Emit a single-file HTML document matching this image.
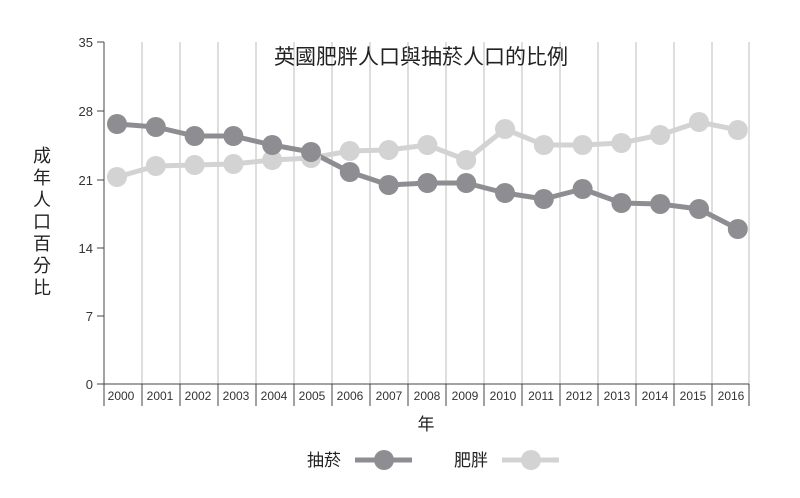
<!DOCTYPE html>
<html><head><meta charset="utf-8"><style>
body{margin:0;background:#fff;}
svg text{font-family:"Liberation Sans","Noto Sans CJK TC",sans-serif;}
</style></head><body>
<svg width="800" height="493" viewBox="0 0 800 493" xmlns="http://www.w3.org/2000/svg">
<g stroke="#bdbdbd" stroke-width="1">
<line x1="142" y1="42" x2="142" y2="384"/><line x1="180" y1="42" x2="180" y2="384"/><line x1="218" y1="42" x2="218" y2="384"/><line x1="256" y1="42" x2="256" y2="384"/><line x1="294" y1="42" x2="294" y2="384"/><line x1="332" y1="42" x2="332" y2="384"/><line x1="370" y1="42" x2="370" y2="384"/><line x1="408" y1="42" x2="408" y2="384"/><line x1="446" y1="42" x2="446" y2="384"/><line x1="484" y1="42" x2="484" y2="384"/><line x1="522" y1="42" x2="522" y2="384"/><line x1="560" y1="42" x2="560" y2="384"/><line x1="598" y1="42" x2="598" y2="384"/><line x1="636" y1="42" x2="636" y2="384"/><line x1="674" y1="42" x2="674" y2="384"/><line x1="712" y1="42" x2="712" y2="384"/><line x1="749" y1="42" x2="749" y2="384"/>
</g>
<g stroke="#444" stroke-width="1">
<line x1="104" y1="42" x2="104" y2="406"/><line x1="104" y1="384" x2="749" y2="384"/>
<line x1="97" y1="42" x2="104" y2="42"/><line x1="97" y1="111" x2="104" y2="111"/><line x1="97" y1="180" x2="104" y2="180"/><line x1="97" y1="248" x2="104" y2="248"/><line x1="97" y1="316" x2="104" y2="316"/><line x1="97" y1="384" x2="104" y2="384"/>
<line x1="142" y1="384" x2="142" y2="406"/><line x1="180" y1="384" x2="180" y2="406"/><line x1="218" y1="384" x2="218" y2="406"/><line x1="256" y1="384" x2="256" y2="406"/><line x1="294" y1="384" x2="294" y2="406"/><line x1="332" y1="384" x2="332" y2="406"/><line x1="370" y1="384" x2="370" y2="406"/><line x1="408" y1="384" x2="408" y2="406"/><line x1="446" y1="384" x2="446" y2="406"/><line x1="484" y1="384" x2="484" y2="406"/><line x1="522" y1="384" x2="522" y2="406"/><line x1="560" y1="384" x2="560" y2="406"/><line x1="598" y1="384" x2="598" y2="406"/><line x1="636" y1="384" x2="636" y2="406"/><line x1="674" y1="384" x2="674" y2="406"/><line x1="712" y1="384" x2="712" y2="406"/><line x1="749" y1="384" x2="749" y2="406"/>
</g>
<g font-size="13" fill="#333" text-anchor="end">
<text x="93" y="47">35</text><text x="93" y="116">28</text><text x="93" y="185">21</text><text x="93" y="253">14</text><text x="93" y="321">7</text><text x="93" y="389">0</text>
</g>
<g font-size="12" fill="#333" text-anchor="middle">
<text x="121" y="400">2000</text><text x="160" y="400">2001</text><text x="198" y="400">2002</text><text x="236" y="400">2003</text><text x="274" y="400">2004</text><text x="312" y="400">2005</text><text x="350" y="400">2006</text><text x="389" y="400">2007</text><text x="427" y="400">2008</text><text x="465" y="400">2009</text><text x="503" y="400">2010</text><text x="541" y="400">2011</text><text x="579" y="400">2012</text><text x="617" y="400">2013</text><text x="655" y="400">2014</text><text x="693" y="400">2015</text><text x="731" y="400">2016</text>
</g>
<text x="421" y="64" font-size="21" fill="#222" text-anchor="middle">英國肥胖人口與抽菸人口的比例</text>
<text x="426" y="430" font-size="17" fill="#222" text-anchor="middle">年</text>
<g font-size="18" fill="#222" text-anchor="middle">
<text x="42" y="162">成</text><text x="42" y="184">年</text><text x="42" y="206">人</text><text x="42" y="228">口</text><text x="42" y="250">百</text><text x="42" y="272">分</text><text x="42" y="294">比</text>
</g>
<g fill="none" stroke-width="5" stroke-linejoin="round">
<polyline stroke="#d3d3d4" points="117,177 155.8,166 194.6,165 233.4,164 272.2,160 311,158 349.8,151 388.6,150 427.4,145 466.2,160 505,129 543.8,145 582.6,145 621.4,143 660.2,135 699,122 737.8,130"/>
<polyline stroke="#8e8e92" points="117,124 155.8,127 194.6,136 233.4,136 272.2,145 311,152 349.8,172 388.6,185 427.4,183 466.2,183 505,193 543.8,199 582.6,189 621.4,203 660.2,204 699,209 737.8,229"/>
</g>
<g fill="#d3d3d4">
<circle cx="117" cy="177" r="10"/><circle cx="155.8" cy="166" r="10"/><circle cx="194.6" cy="165" r="10"/><circle cx="233.4" cy="164" r="10"/><circle cx="272.2" cy="160" r="10"/><circle cx="311" cy="158" r="10"/><circle cx="349.8" cy="151" r="10"/><circle cx="388.6" cy="150" r="10"/><circle cx="427.4" cy="145" r="10"/><circle cx="466.2" cy="160" r="10"/><circle cx="505" cy="129" r="10"/><circle cx="543.8" cy="145" r="10"/><circle cx="582.6" cy="145" r="10"/><circle cx="621.4" cy="143" r="10"/><circle cx="660.2" cy="135" r="10"/><circle cx="699" cy="122" r="10"/><circle cx="737.8" cy="130" r="10"/>
</g>
<g fill="#8e8e92">
<circle cx="117" cy="124" r="10"/><circle cx="155.8" cy="127" r="10"/><circle cx="194.6" cy="136" r="10"/><circle cx="233.4" cy="136" r="10"/><circle cx="272.2" cy="145" r="10"/><circle cx="311" cy="152" r="10"/><circle cx="349.8" cy="172" r="10"/><circle cx="388.6" cy="185" r="10"/><circle cx="427.4" cy="183" r="10"/><circle cx="466.2" cy="183" r="10"/><circle cx="505" cy="193" r="10"/><circle cx="543.8" cy="199" r="10"/><circle cx="582.6" cy="189" r="10"/><circle cx="621.4" cy="203" r="10"/><circle cx="660.2" cy="204" r="10"/><circle cx="699" cy="209" r="10"/><circle cx="737.8" cy="229" r="10"/>
</g>
<text x="307" y="466" font-size="17" fill="#222">抽菸</text>
<line x1="355" y1="460" x2="412" y2="460" stroke="#8e8e92" stroke-width="5"/>
<circle cx="384" cy="460" r="10" fill="#8e8e92"/>
<text x="454" y="466" font-size="17" fill="#222">肥胖</text>
<line x1="502" y1="460" x2="559" y2="460" stroke="#d3d3d4" stroke-width="5"/>
<circle cx="531" cy="460" r="10" fill="#d3d3d4"/>
</svg>
</body></html>
